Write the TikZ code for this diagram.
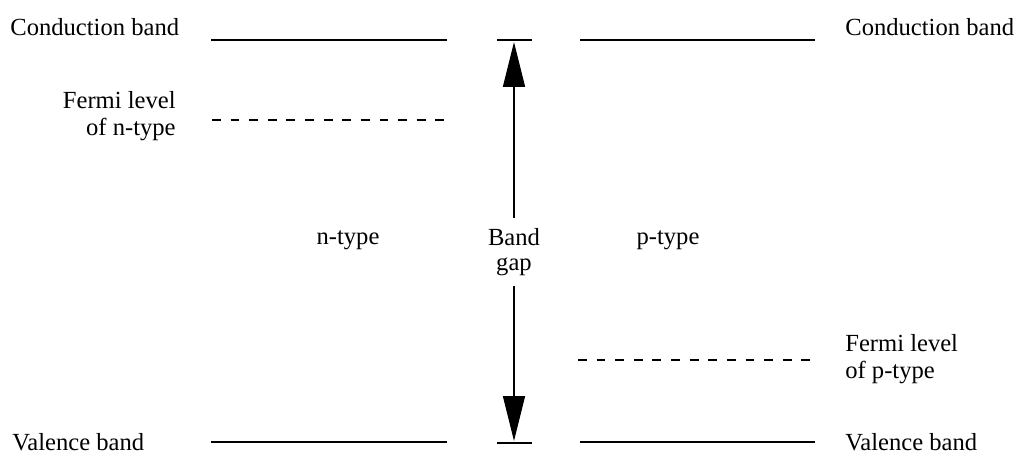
\documentclass[tikz,border=0pt]{standalone}
\usepackage{fontspec}
\setmainfont{Liberation Serif}
\usetikzlibrary{arrows.meta}
\tikzset{
  level/.style={line width=1.1pt},
  fermi/.style={line width=1.1pt,dash pattern=on 5pt off 5.6pt},
  gaparrow/.style={line width=0.9pt,-{Triangle[length=0.9cm,width=0.44cm]}},
  lbl/.style={font=\fontsize{14}{15.5}\selectfont,inner sep=0pt}
}
\begin{document}
\begin{tikzpicture}[x=0.02cm,y=-0.02cm]
\useasboundingbox (0,0) rectangle (1022,464);
% band edges
\coordinate (CL1) at (211,40);
\coordinate (CL2) at (447,40);
\coordinate (CR1) at (580,40);
\coordinate (CR2) at (815,40);
\coordinate (CM1) at (497,40);
\coordinate (CM2) at (532,40);
\coordinate (VL1) at (211,442);
\coordinate (VL2) at (447,442);
\coordinate (VR1) at (580,442);
\coordinate (VR2) at (815,442);
\coordinate (VM1) at (497,443);
\coordinate (VM2) at (532,443);
% fermi levels
\coordinate (FN1) at (212,120);
\coordinate (FN2) at (447,120);
\coordinate (FP1) at (578,360);
\coordinate (FP2) at (815,360);
% arrow ends
\coordinate (top) at (514,42);
\coordinate (bot) at (514,441);
\draw[level] (CL1) -- (CL2);
\draw[level] (CR1) -- (CR2);
\draw[level] (CM1) -- (CM2);
\draw[level] (VL1) -- (VL2);
\draw[level] (VR1) -- (VR2);
\draw[level] (VM1) -- (VM2);
\draw[fermi] (FN1) -- (FN2);
\draw[fermi] (FP1) -- (FP2);
% labels
\node[lbl,anchor=west] (cbl) at (10,27) {Conduction band};
\node[lbl,anchor=west] (cbr) at (845,27) {Conduction band};
\node[lbl,anchor=west] (vbl) at (12,442) {Valence band};
\node[lbl,anchor=west] (vbr) at (845,442) {Valence band};
\node[lbl,anchor=east,align=right] (fnl) at (176,116) {Fermi level\\of n-type};
\node[lbl,anchor=west,align=left] (fpl) at (845,359) {Fermi level\\of p-type};
\node[lbl] (ntype) at (348,240) {n-type};
\node[lbl] (ptype) at (668,240) {p-type};
\node[lbl,align=center,inner sep=6pt,font=\fontsize{14}{14}\selectfont] (gap) at (514,252) {Band\\gap};
\draw[gaparrow] (gap) -- (top);
\draw[gaparrow] (gap) -- (bot);
\end{tikzpicture}
\end{document}
